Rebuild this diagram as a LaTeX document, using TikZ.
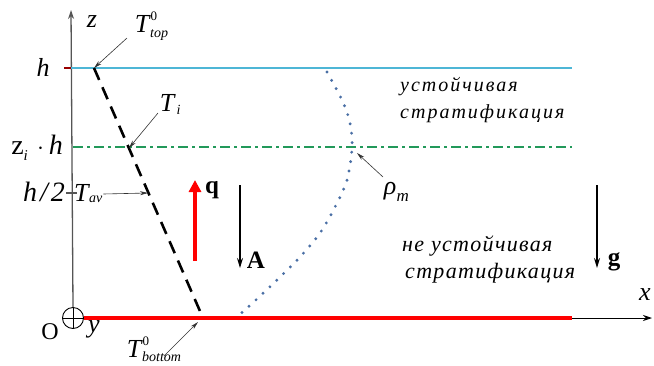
\documentclass[tikz,border=0pt]{standalone}
\usepackage{fontspec}
\setmainfont{Liberation Serif}
\usetikzlibrary{arrows.meta}
\definecolor{axisgray}{HTML}{555555}
\definecolor{toplin}{HTML}{4DB6D6}
\definecolor{zigreen}{HTML}{22995A}
\definecolor{rhoblue}{HTML}{4A6FA5}
\tikzset{
  lbl/.style={inner sep=0pt, font=\fontsize{26}{26}\selectfont\itshape},
  sub/.style={inner sep=0pt, font=\fontsize{14}{14}\selectfont\itshape},
  supz/.style={inner sep=0pt, font=\fontsize{13}{13}\selectfont\upshape},
  rus/.style={inner sep=0pt, anchor=west, font=\fontsize{20}{20}\selectfont\itshape\addfontfeature{LetterSpace=10}},
  rusb/.style={inner sep=0pt, anchor=west, font=\fontsize{22}{22}\selectfont\itshape\addfontfeature{LetterSpace=6}},
  bold/.style={inner sep=0pt, font=\fontsize{25}{25}\selectfont\bfseries},
  pointer/.style={-{Stealth[length=8pt,width=4pt]}, line width=0.6pt, black!80},
  axis/.style={line width=1.3pt, axisgray},
  vec/.style={-{Stealth[length=10pt,width=6pt]}, line width=1.4pt}
}
\begin{document}
\begin{tikzpicture}[x=1pt,y=-1pt]
\useasboundingbox (0,0) rectangle (654,365);
% axes
\coordinate (zt) at (71,10);
\coordinate (xr) at (652,318);
\node[draw, circle, line width=0.9pt, minimum size=21pt, inner sep=0pt] (O) at (73,318) {};
\draw[line width=0.9pt] (O.north) -- (O.south) (O.west) -- (O.east);
\draw[axis,-{Stealth[length=9pt,width=6pt]}] (O.north) -- (zt);
\draw[line width=0.9pt,-{Stealth[length=9pt,width=6pt]}] (O.east) -- (xr);
% horizontal lines
\coordinate (hL) at (64,68);  \coordinate (hR) at (572,68);
\draw[toplin, line width=2pt] (71,68) -- (hR);
\draw[red!60!black, line width=1.6pt] (hL) -- (71,68);
\coordinate (ziL) at (73,147); \coordinate (ziR) at (572,147);
\draw[zigreen, line width=2.2pt, dash pattern=on 10pt off 4pt on 3pt off 4pt] (ziL) -- (ziR);
\draw[axisgray, line width=1.3pt] (66,193) -- (77,193);
\coordinate (rL) at (84,318); \coordinate (rR) at (572,318);
\draw[red, line width=4pt] (rL) -- (rR);
% temperature profile
\coordinate (Ttop) at (94,68);
\coordinate (Tbot) at (203,318);
\draw[black, line width=2.6pt, dash pattern=on 13pt off 8pt] (Ttop) -- (Tbot);
\coordinate (Ti) at (129,148);
\coordinate (Tav) at (148,193);
% density profile
\draw[rhoblue, line width=3.2pt, line cap=round, dash pattern=on 0pt off 9.5pt]
  plot[smooth, tension=0.55] coordinates {(327,72) (342,100) (350,123) (352,148) (347,180) (335,207) (320,233) (300,257) (280,277) (258,298) (237,317)};
\coordinate (rhoP) at (357,153);
% labels
\node[lbl] (zlab) at (92,22) {z};
\node[lbl] (hlab) at (43,67) {h};
\node[lbl, anchor=east] (zilab) at (63,148) {\upshape\fontsize{28}{28}\selectfont z\raisebox{-0.5ex}{\fontsize{15}{15}\selectfont\itshape i}\,\,$\cdot$\,\itshape h};
\node[lbl, anchor=east, font=\fontsize{28}{28}\selectfont\itshape] (h2lab) at (65,192) {h\kern3pt/\kern3pt2};
\node[lbl, anchor=west] (Tavlab) at (74,193) {T};
\node[sub, anchor=west] (Tavsub) at (Tavlab.east |- 0,199) {av};
\node[lbl] (Ttoplab) at (142,24) {T};
\node[supz, anchor=base west] (Ttop0) at ([xshift=1pt]Ttoplab.east |- 0,20) {0};
\node[sub, anchor=base west] (Ttopsub) at ([xshift=0.5pt]Ttoplab.east |- 0,37) {top};
\node[lbl] (Tilab) at (167,103) {T};
\node[sub, anchor=west] (Tisub) at ([xshift=2pt]Tilab.east |- 0,110) {i};
\node[lbl] (Tbotlab) at (134,349) {T};
\node[supz, anchor=base west] (Tbot0) at ([xshift=1pt]Tbotlab.east |- 0,345) {0};
\node[sub, anchor=base west] (Tbotsub) at ([xshift=0.5pt]Tbotlab.east |- 0,361) {bottom};
\node[lbl] (rholab) at (390,191) {ρ};
\node[sub, font=\fontsize{17}{17}\selectfont\itshape, anchor=west] (rhosub) at (rholab.east |- 0,197) {m};
\node[inner sep=0pt, font=\fontsize{24}{24}\selectfont] (Olab) at (50,332) {O};
\node[lbl] (ylab) at (94,329) {y};
\node[lbl] (xlab) at (645,295) {x};
% pointers
\draw[pointer] (127,38) -- (Ttop);
\draw[pointer] (158,113) -- (Ti);
\draw[pointer] (Tavsub.east) ++(1,-5) -- (Tav);
\draw[pointer] (164,356) -- (198,322);
\draw[pointer] (383,177) -- (rhoP);
% vectors
\coordinate (q0) at (195,261); \coordinate (q1) at (195,180);
\draw[red, line width=3.2pt, -{Triangle[length=12pt,width=12pt]}] (q0) -- (q1);
\node[bold] (qlab) at (212,190) {q};
\coordinate (a0) at (240,185); \coordinate (a1) at (240,268);
\draw[vec] (a0) -- (a1);
\node[bold] (Alab) at (256,260) {A};
\coordinate (g0) at (597,185); \coordinate (g1) at (597,268);
\draw[vec] (g0) -- (g1);
\node[bold] (glab) at (614,262) {g};
% russian texts
\node[rus] (t1) at (400,87) {устойчивая};
\node[rus] (t2) at (400,114) {стратификация};
\node[rusb] (t3) at (402,246) {не устойчивая};
\node[rusb] (t4) at (405,273) {стратификация};
\end{tikzpicture}
\end{document}
